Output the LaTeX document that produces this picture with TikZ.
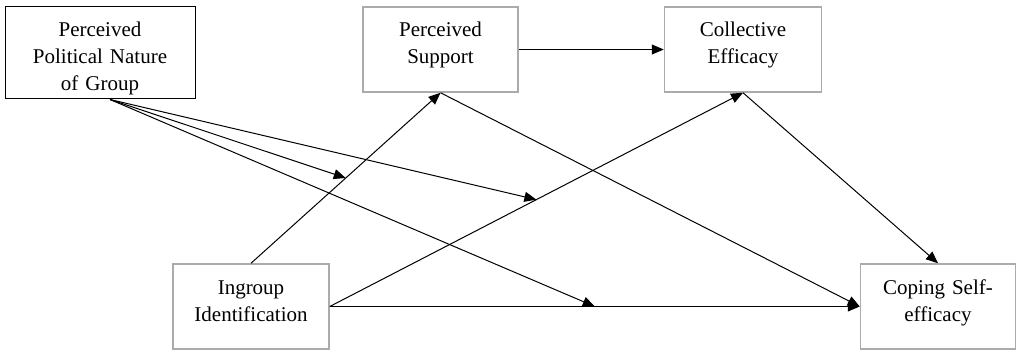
\documentclass[tikz,border=0pt]{standalone}
\usepackage{fontspec}
\setmainfont{Liberation Serif}
\usetikzlibrary{arrows.meta, positioning}
\tikzstyle{varbox} = [rectangle, text width=77.5pt, minimum height=42.5pt, inner sep=0pt, text height=15pt, text depth=27.5pt, align=center, draw=black!33, line width=0.75pt, font=\fontsize{10.5}{13.5}\selectfont]
\tikzstyle{modbox} = [varbox, text width=95pt, minimum height=46pt, text depth=31pt, draw=black, line width=0.5pt]
\tikzstyle{arrow} = [line width=0.5pt, -{Triangle[length=6pt, width=5pt]}]

\begin{document}
\begin{tikzpicture}[x=0.5pt, y=-0.5pt]
\useasboundingbox (0,0) rectangle (1016,353);
% moderator top left, mediators on top, outcome bottom right
\node (ppn) [modbox] at (100,53) {Perceived\\Political Nature\\of Group};

\node (ps) [varbox] at (440.5,49.5) {Perceived\\Support};
\node (ce) [varbox, text width=78.5pt, right=72.5pt of ps] {Collective\\Efficacy};

\node (ii) [varbox, text width=78pt] at (251,306.5) {Ingroup\\Identification};
\node (cse) [varbox, right=265pt of ii] {Coping Self-\\efficacy};

\coordinate (ppnout) at ([xshift=5pt]ppn.south);

\draw [arrow] (ps) -- (ce);
\draw [arrow] (ii.north) -- coordinate[pos=0.5] (mida) (ps.south);
\draw [arrow] (ii.east) -- coordinate[pos=0.5] (midb) (ce.south);
\draw [arrow] (ii.east) -- coordinate[pos=0.5] (midc) (cse.west);
\draw [arrow] (ps.south) -- (cse.west);
\draw [arrow] (ce.south) -- (cse.north);

\draw [arrow] (ppnout) -- (mida);
\draw [arrow] (ppnout) -- (midb);
\draw [arrow] (ppnout) -- (midc);
\end{tikzpicture}
\end{document}
